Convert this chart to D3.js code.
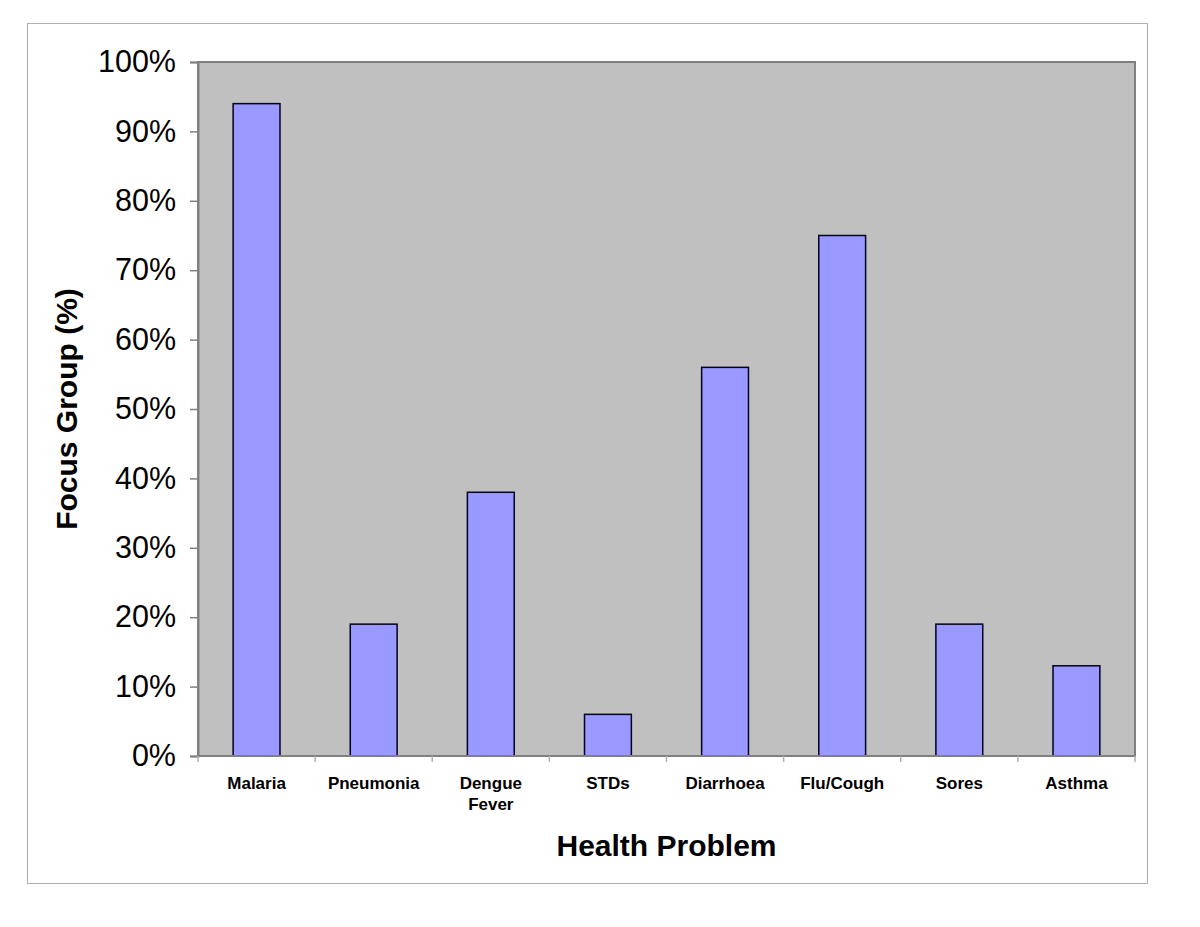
<!DOCTYPE html>
<html>
<head>
<meta charset="utf-8">
<script src="https://cdn.jsdelivr.net/npm/d3@7"></script>
<style>
  body { margin: 0; background: #fff; }
  text { font-family: "Liberation Sans", Arial, sans-serif; }
</style>
</head>
<body>
<div class="chart"></div>
<script>
// categories and values
const problems = ["Malaria", "Pneumonia", "Dengue Fever", "STDs", "Diarrhoea", "Flu/Cough", "Sores", "Asthma"];
const shares = [94, 19, 38, 6, 56, 75, 19, 13];
const yTicks = [0, 10, 20, 30, 40, 50, 60, 70, 80, 90, 100];

const w = 1200;
const h = 927;
const plot = {left: 198, top: 62, right: 1135, bottom: 756};

const svg = d3.select('.chart')
    .append('svg')
    .attr('width', w)
    .attr('height', h);

// outer frame
svg.append('rect')
    .attr('x', 27.5).attr('y', 23.5)
    .attr('width', 1120).attr('height', 860)
    .attr('fill', 'white')
    .attr('stroke', '#b0b0b0')
    .attr('stroke-width', 1);

const x = d3.scaleBand()
    .domain(problems)
    .range([plot.left, plot.right])
    .paddingInner(0.6)
    .paddingOuter(0.3);

const y = d3.scaleLinear()
    .domain([0, 100])
    .range([plot.bottom, plot.top]);

// plot background
svg.append('rect')
    .attr('x', plot.left).attr('y', plot.top)
    .attr('width', plot.right - plot.left)
    .attr('height', plot.bottom - plot.top)
    .attr('fill', '#c0c0c0')
    .attr('stroke', '#808080')
    .attr('stroke-width', 2);

// bars
svg.selectAll('.bar')
    .data(problems)
    .enter()
    .append('rect')
    .attr('class', 'bar')
    .attr('x', d => x(d))
    .attr('y', (d, i) => y(shares[i]))
    .attr('width', x.bandwidth())
    .attr('height', (d, i) => y(0) - y(shares[i]))
    .attr('fill', '#9999ff')
    .attr('stroke', '#000022')
    .attr('stroke-width', 1.5);

// y axis
const yAxis = svg.append('g')
    .attr('transform', `translate(${plot.left},0)`)
    .call(d3.axisLeft(y).tickValues(yTicks).tickFormat(d => d + '%').tickSize(8).tickPadding(14));
yAxis.select('.domain').attr('stroke', '#808080').attr('stroke-width', 2);
yAxis.selectAll('.tick line').attr('stroke', '#808080').attr('stroke-width', 1.5);
yAxis.selectAll('.tick text')
    .attr('font-size', 30.5)
    .attr('fill', 'black')
    .attr('font-family', '"Liberation Sans", Arial, sans-serif');

// x axis: ticks at category boundaries
const bounds = d3.range(problems.length + 1).map(i => plot.left + i * (plot.right - plot.left) / problems.length);
svg.append('line')
    .attr('x1', plot.left).attr('x2', plot.right)
    .attr('y1', plot.bottom).attr('y2', plot.bottom)
    .attr('stroke', '#808080').attr('stroke-width', 2);
svg.selectAll('.xtick')
    .data(bounds)
    .enter()
    .append('line')
    .attr('class', 'xtick')
    .attr('x1', d => d).attr('x2', d => d)
    .attr('y1', plot.bottom).attr('y2', plot.bottom + 6)
    .attr('stroke', '#b0b0b0').attr('stroke-width', 1.5);

// category labels (wrap on space for two-word names)
const labels = svg.selectAll('.xlabel')
    .data(problems)
    .enter()
    .append('text')
    .attr('class', 'xlabel')
    .attr('text-anchor', 'middle')
    .attr('font-size', 17)
    .attr('font-weight', 'bold')
    .attr('fill', 'black');
labels.each(function(d) {
    const words = d.split(' ');
    d3.select(this).selectAll('tspan')
        .data(words)
        .enter()
        .append('tspan')
        .attr('x', x(d) + x.bandwidth() / 2)
        .attr('y', (wd, i) => 789 + i * 21)
        .text(wd => wd);
});

// axis titles
svg.append('text')
    .attr('x', (plot.left + plot.right) / 2)
    .attr('y', 856)
    .attr('text-anchor', 'middle')
    .attr('font-size', 30)
    .attr('font-weight', 'bold')
    .text('Health Problem');

svg.append('text')
    .attr('transform', `translate(77,${(plot.top + plot.bottom) / 2}) rotate(-90)`)
    .attr('text-anchor', 'middle')
    .attr('font-size', 30)
    .attr('font-weight', 'bold')
    .text('Focus Group (%)');
</script>
</body>
</html>
